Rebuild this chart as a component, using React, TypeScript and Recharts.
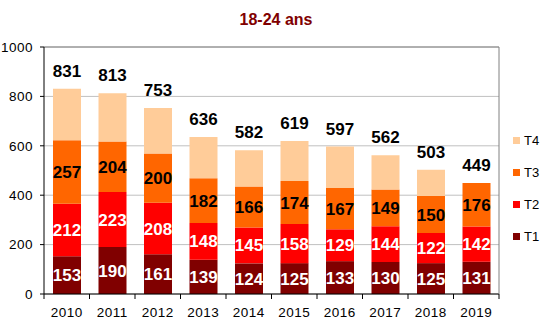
import React from 'react';
import * as R from 'recharts';
import { BarChart, Bar, XAxis, YAxis, CartesianGrid, LabelList, Legend, ReferenceLine } from 'recharts';

const years = ['2010', '2011', '2012', '2013', '2014', '2015', '2016', '2017', '2018', '2019'];
const t1 = [153, 190, 161, 139, 124, 125, 133, 130, 125, 131];
const t2 = [212, 223, 208, 148, 145, 158, 129, 144, 122, 142];
const t3 = [257, 204, 200, 182, 166, 174, 167, 149, 150, 176];
const t4 = [209, 196, 184, 167, 147, 162, 168, 139, 106, 0];
const totals = [831, 813, 753, 636, 582, 619, 597, 562, 503, 449];
const yTicks = [0, 200, 400, 600, 800, 1000];
const title = '18-24 ans';

const series = [
  { key: 'T1', color: '#800000', label: '#ffffff' },
  { key: 'T2', color: '#ff0000', label: '#ffffff' },
  { key: 'T3', color: '#ff6600', label: '#000000' },
  { key: 'T4', color: '#ffcc99', label: null },
];

const data = years.map((y, i) => ({
  year: y,
  T1: t1[i],
  T2: t2[i],
  T3: t3[i],
  T4: t4[i],
  total: totals[i],
}));

const FONT = 'Arial, "Liberation Sans", sans-serif';

const LegendContent = () => (
  <div style={{ fontFamily: FONT, fontSize: 13, color: '#000' }}>
    {[...series].reverse().map((s) => (
      <div key={s.key} style={{ display: 'flex', alignItems: 'center', height: 32 }}>
        <span style={{ display: 'inline-block', width: 7, height: 7, background: s.color, marginRight: 4 }} />
        <span>{s.key}</span>
      </div>
    ))}
  </div>
);

const tickStyle = { fill: '#000', fontSize: 13.5, fontFamily: FONT, letterSpacing: 0.5 };

const RA: any = R;
const usePlotWidth: () => number | null = RA.usePlotArea
  ? () => {
      const pa = RA.usePlotArea();
      return pa ? pa.width : null;
    }
  : RA.useOffset && RA.useChartWidth
  ? () => {
      const off = RA.useOffset();
      const w = RA.useChartWidth();
      return off && w ? w - off.left - off.right : null;
    }
  : () => null;

// year label at the band centre, tick marks at the band boundaries
const BottomTick = (props: any) => {
  const { x, y, payload, index } = props;
  const plotWidth = usePlotWidth();
  const half = plotWidth ? plotWidth / years.length / 2 : 0;
  const last = index === years.length - 1;
  return (
    <g>
      {half > 0 && <line x1={x - half} x2={x - half} y1={y} y2={y + 5} stroke="#000" />}
      {half > 0 && last && <line x1={x + half} x2={x + half} y1={y} y2={y + 5} stroke="#000" />}
      <text
        x={x}
        y={y + 13}
        dy="0.71em"
        textAnchor="middle"
        fill="#000"
        style={{ fontSize: 13.5, fontFamily: FONT, letterSpacing: 0.5 }}
      >
        {payload.value}
      </text>
    </g>
  );
};

export default function App() {
  return (
    <div style={{ position: 'absolute', left: 0, top: 0, width: 552, height: 332, background: '#fff' }}>
      <div
        style={{
          position: 'absolute',
          left: 0,
          width: 552,
          top: 11,
          textAlign: 'center',
          fontFamily: FONT,
          fontWeight: 'bold',
          fontSize: 16,
          color: '#800000',
          zIndex: 2,
        }}
      >
        {title}
      </div>
      <BarChart
        width={552}
        height={332}
        data={data}
        margin={{ top: 47, right: 0, bottom: 0, left: 0 }}
        barSize={28}
      >
        <CartesianGrid vertical={false} stroke="#c0c0c0" />
        <XAxis
          dataKey="year"
          height={38}
          axisLine={{ stroke: '#000' }}
          tickLine={false}
          tickSize={0}
          tickMargin={0}
          tick={(p: any) => <BottomTick {...p} />}
          interval={0}
        />
        <XAxis xAxisId="c" dataKey="year" hide height={0} />
        <YAxis
          domain={[0, 1000]}
          ticks={yTicks}
          width={44}
          axisLine={{ stroke: '#000' }}
          tickLine={{ stroke: '#000' }}
          tickSize={4}
          tickMargin={7}
          tick={tickStyle}
          interval={0}
        />
        <YAxis
          yAxisId="r"
          orientation="right"
          domain={[0, 1]}
          ticks={[1]}
          width={53}
          axisLine={{ stroke: '#808080' }}
          tickLine={false}
          tickSize={0}
          tickMargin={49}
          tick={tickStyle}
        />
        <ReferenceLine y={1000} stroke="#808080" />
        {series.map((s) => (
          <Bar key={s.key} dataKey={s.key} stackId="a" fill={s.color} isAnimationActive={false}>
            {s.label ? (
              <LabelList
                dataKey={s.key}
                position="center"
                fill={s.label}
                style={{ fontFamily: FONT, fontWeight: 'bold', fontSize: 17 }}
              />
            ) : null}
          </Bar>
        ))}
        <Bar dataKey="total" xAxisId="c" fill="none" isAnimationActive={false} legendType="none">
          <LabelList
            dataKey="total"
            position="top"
            offset={12}
            fill="#000"
            style={{ fontFamily: FONT, fontWeight: 'bold', fontSize: 17 }}
          />
        </Bar>
        <Legend
          layout="vertical"
          align="center"
          verticalAlign="middle"
          content={<LegendContent />}
          wrapperStyle={{ left: 513, top: 124, width: 40, height: 130 }}
        />
      </BarChart>
    </div>
  );
}
